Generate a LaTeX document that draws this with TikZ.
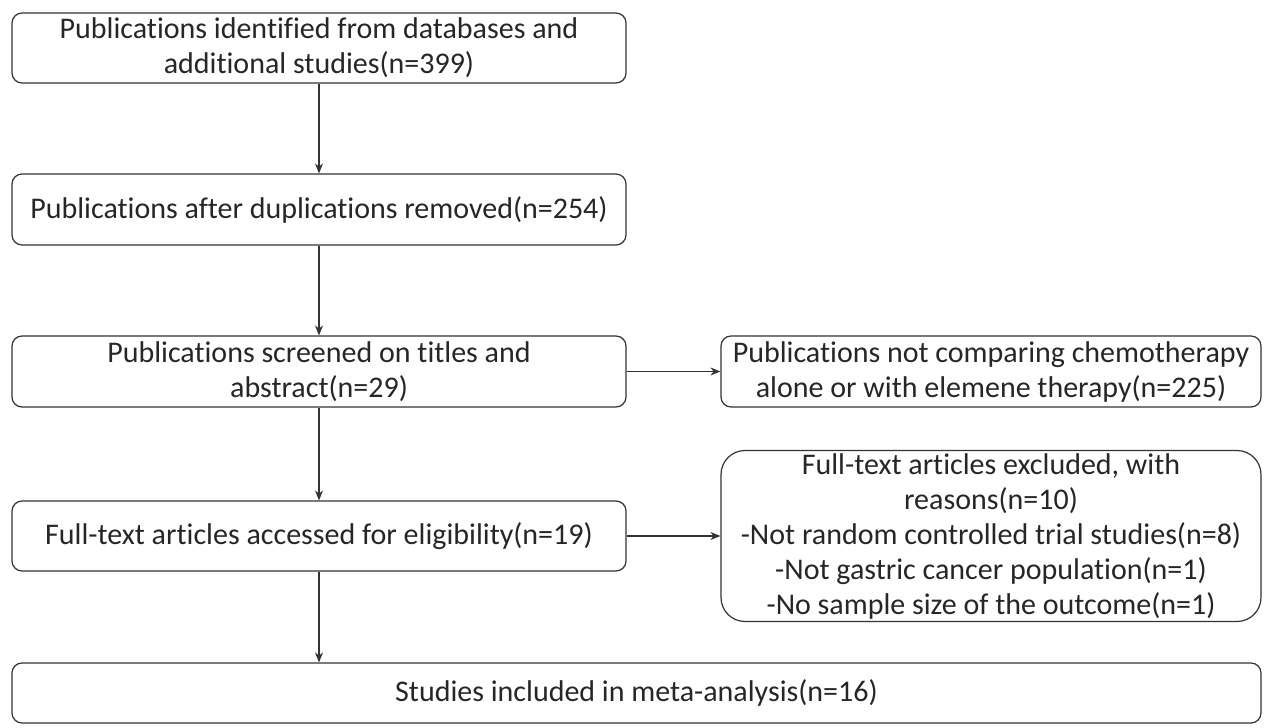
\documentclass[tikz,border=0pt]{standalone}
\usepackage{fontspec}
\setmainfont{Carlito}[Ligatures=NoCommon]
\usetikzlibrary{positioning,arrows.meta}

\begin{document}
\begin{tikzpicture}[
        x=0.5pt,
        y=-0.5pt,
        stage/.style={
            draw=black!80,
            line width=0.6pt,
            rounded corners=5pt,
            align=center,
            inner sep=0pt,
            text=black!85
        },
        flow/.style={
            draw=black!80,
            line width=0.6pt,
            -{Stealth[length=5pt,width=4pt]}
        },
        every node/.style={
            font=\fontsize{15}{17.5}\selectfont
        }
    ]

    \useasboundingbox (0,0) rectangle (1265,728);

    % Main column
    \node[stage, minimum width=307pt, minimum height=35pt] (pub) at (319,48)
        {Publications identified from databases and\\additional studies(n=399)};
    \node[stage, minimum width=307pt, minimum height=35.5pt] (dup) at (319,209.5)
        {Publications after duplications removed(n=254)};
    \node[stage, minimum width=307pt, minimum height=35.5pt] (scr) at (319,371.5)
        {Publications screened on titles and\\abstract(n=29)};
    \node[stage, minimum width=307pt, minimum height=35pt] (full) at (319,536)
        {Full-text articles accessed for eligibility(n=19)};
    \node[stage, minimum width=624.5pt, minimum height=30pt] (res) at (636.5,693)
        {Studies included in meta-analysis(n=16)};

    % Exclusion boxes
    \node[stage, minimum width=270pt, minimum height=35.5pt] (nocmp) at (991,371.5)
        {Publications not comparing chemotherapy\\alone or with elemene therapy(n=225)};
    \node[stage, rounded corners=12pt, minimum width=270pt, minimum height=85.5pt] (excl) at (991,536)
        {Full-text articles excluded, with\\reasons(n=10)\\-Not random controlled trial studies(n=8)\\-Not gastric cancer population(n=1)\\-No sample size of the outcome(n=1)};

    % Arrows
    \draw[flow] (pub) -- (dup);
    \draw[flow] (dup) -- (scr);
    \draw[flow] (scr) -- (full);
    \draw[flow] (full) -- (full |- res.north);
    \draw[flow] (scr) -- (nocmp);
    \draw[flow] (full) -- (excl);

\end{tikzpicture}
\end{document}
